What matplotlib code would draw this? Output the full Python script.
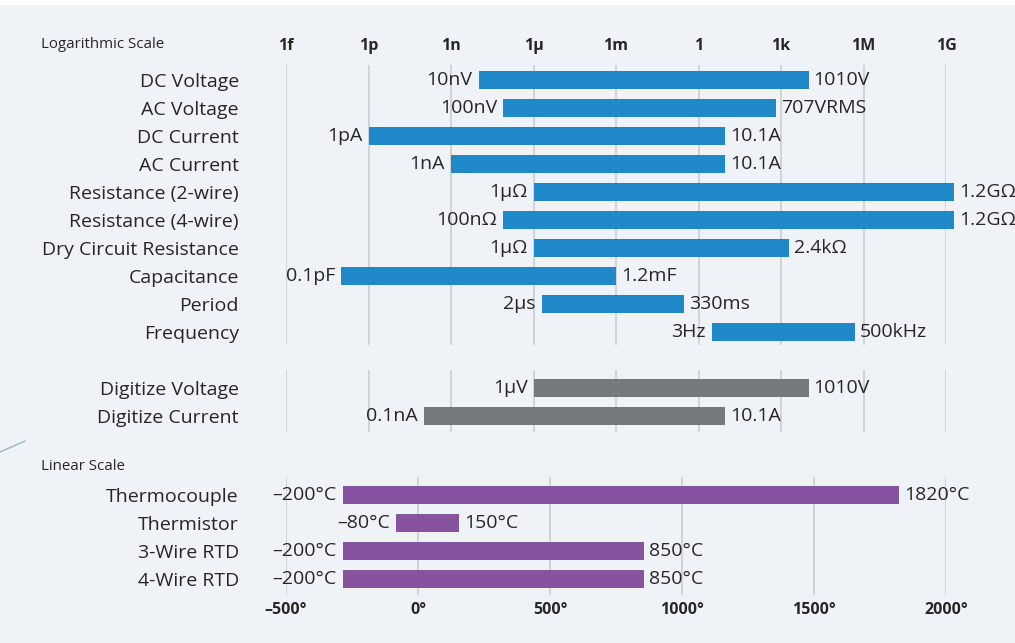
import matplotlib
matplotlib.use("Agg")
import matplotlib.pyplot as plt
from matplotlib.lines import Line2D
from matplotlib.patches import Rectangle
import numpy as np

plt.rcParams["font.family"] = ["Open Sans", "DejaVu Sans"]

# logarithmic section
log_cats = ["DC Voltage", "AC Voltage", "DC Current", "AC Current",
            "Resistance (2-wire)", "Resistance (4-wire)", "Dry Circuit Resistance",
            "Capacitance", "Period", "Frequency"]
log_lo = [1e-8, 8e-8, 1e-12, 1e-9, 1e-6, 8e-8, 1e-6, 1e-13, 2e-6, 3]
log_hi = [1e4, 660, 9, 9, 2e9, 2e9, 2e3, 1e-3, 0.3, 5e5]
log_lo_lbl = ["10nV", "100nV", "1pA", "1nA", "1µΩ", "100nΩ", "1µΩ", "0.1pF", "2µs", "3Hz"]
log_hi_lbl = ["1010V", "707VRMS", "10.1A", "10.1A", "1.2GΩ", "1.2GΩ", "2.4kΩ",
              "1.2mF", "330ms", "500kHz"]

dig_cats = ["Digitize Voltage", "Digitize Current"]
dig_lo = [1e-6, 1e-10]
dig_hi = [1e4, 9]
dig_lo_lbl = ["1µV", "0.1nA"]
dig_hi_lbl = ["1010V", "10.1A"]

log_ticks = [1e-15, 1e-12, 1e-9, 1e-6, 1e-3, 1, 1e3, 1e6, 1e9]
log_tick_lbl = ["1f", "1p", "1n", "1µ", "1m", "1", "1k", "1M", "1G"]

# linear section
lin_cats = ["Thermocouple", "Thermistor", "3-Wire RTD", "4-Wire RTD"]
lin_lo = [-285, -83, -285, -285]
lin_hi = [1823, 155, 857, 857]
lin_lo_lbl = ["–200°C", "–80°C", "–200°C", "–200°C"]
lin_hi_lbl = ["1820°C", "150°C", "850°C", "850°C"]
lin_ticks = [-500, 0, 500, 1000, 1500, 2000]
lin_tick_lbl = ["–500°", "0°", "500°", "1000°", "1500°", "2000°"]

BG = "#eff3f8"
BLUE = "#1f88c8"
GRAY = "#76797d"
PURPLE = "#8752a0"
TXT = "#262626"
GRID = "#cdd1d6"

W, H = 1015, 643
fig = plt.figure(figsize=(W / 100, H / 100), dpi=100, facecolor=BG)
fig.patches.append(Rectangle((0, 1 - 5 / H), 1, 5 / H, transform=fig.transFigure,
                             facecolor="white", edgecolor="none"))
fig.add_artist(Line2D([0, 25 / W], [1 - 452 / H, 1 - 441 / H], transform=fig.transFigure,
                      color="#8ea2bb", lw=0.8))

ROW = 28.0
FS = 14


def make_ax(top_px, bot_px, row0_px):
    ax = fig.add_axes([286 / W, 1 - bot_px / H, 660 / W, (bot_px - top_px) / H])
    ax.set_facecolor("none")
    ax.set_ylim((bot_px - row0_px) / ROW, (top_px - row0_px) / ROW)
    for s in ax.spines.values():
        s.set_visible(False)
    ax.tick_params(axis="both", length=0)
    return ax


def draw_bars(ax, rows, lo, hi, lo_lbl, hi_lbl, color):
    lo = np.array(lo, dtype=float)
    hi = np.array(hi, dtype=float)
    bars = ax.barh(rows, hi - lo, left=lo, height=0.62, color=color, zorder=3)
    for b in bars:
        b.set_clip_on(False)
    for r, a, b, la, lb in zip(rows, lo, hi, lo_lbl, hi_lbl):
        ax.annotate(la, (a, r), xytext=(-6, 0), textcoords="offset pixels",
                    ha="right", va="center", fontsize=FS, color=TXT,
                    annotation_clip=False)
        ax.annotate(lb, (b, r), xytext=(5, 0), textcoords="offset pixels",
                    ha="left", va="center", fontsize=FS, color=TXT,
                    annotation_clip=False)


# log axes
ax1 = make_ax(58, 440, 80)
ax1.set_xscale("log")
ax1.set_xlim(1e-15, 1e9)
main_rows = np.arange(len(log_cats))
dig_rows = np.array([11, 12])
ax1.vlines(log_ticks, -0.54, 9.46, color=GRID, lw=1.3, zorder=1)
ax1.vlines(log_ticks, 10.36, 12.57, color=GRID, lw=1.3, zorder=1)
draw_bars(ax1, main_rows, log_lo, log_hi, log_lo_lbl, log_hi_lbl, BLUE)
draw_bars(ax1, dig_rows, dig_lo, dig_hi, dig_lo_lbl, dig_hi_lbl, GRAY)
ax1.set_yticks(list(main_rows) + list(dig_rows), log_cats + dig_cats,
               fontsize=FS, color=TXT)
ax1.tick_params(axis="y", pad=34)
ax1.xaxis.tick_top()
ax1.set_xticks(log_ticks, log_tick_lbl, fontsize=11.5, fontweight="bold", color=TXT)
ax1.minorticks_off()
ax1.tick_params(axis="x", pad=3)
fig.text(41 / W, 1 - 44 / H, "Logarithmic Scale", fontsize=10.8, color=TXT,
         ha="left", va="center")

# linear axes
ax2 = make_ax(470, 598, 495)
ax2.set_xlim(-500, 2000)
lin_rows = np.arange(len(lin_cats))
ax2.vlines(lin_ticks, -0.64, 3.57, color=GRID, lw=1.3, zorder=1)
draw_bars(ax2, lin_rows, lin_lo, lin_hi, lin_lo_lbl, lin_hi_lbl, PURPLE)
ax2.set_yticks(lin_rows, lin_cats, fontsize=FS, color=TXT)
ax2.tick_params(axis="y", pad=34)
ax2.set_xticks(lin_ticks, lin_tick_lbl, fontsize=11.5, fontweight="bold", color=TXT)
ax2.tick_params(axis="x", pad=3)
fig.text(41 / W, 1 - 466 / H, "Linear Scale", fontsize=10.8, color=TXT,
         ha="left", va="center")

fig.savefig("out.png", dpi=100, facecolor=BG)
